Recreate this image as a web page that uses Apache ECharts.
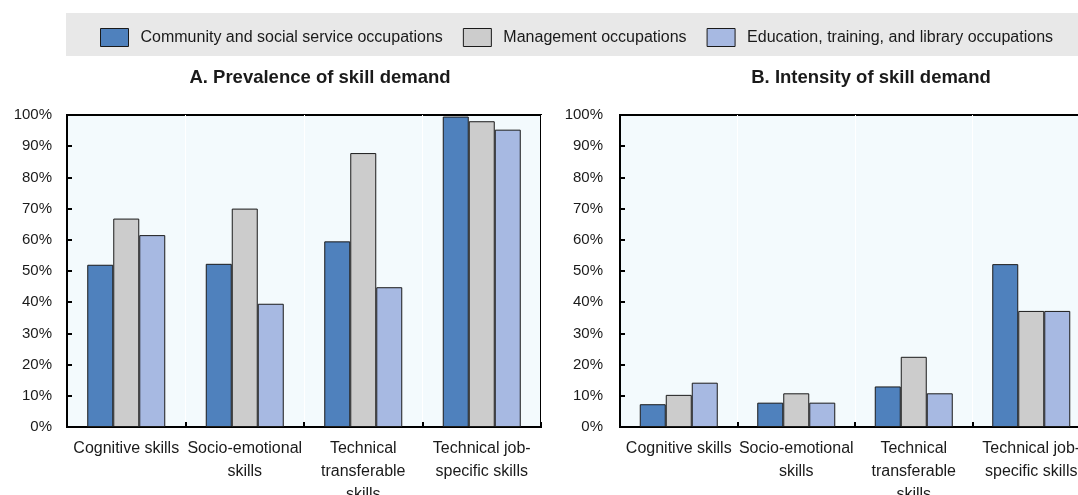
<!DOCTYPE html>
<html>
<head>
<meta charset="utf-8">
<title>Skill demand</title>
<script src="https://cdn.jsdelivr.net/npm/echarts@6/dist/echarts.min.js"></script>
<style>
  html, body { margin: 0; padding: 0; background: #fff; }
  #chart { width: 1078px; height: 495px; }
</style>
</head>
<body>
<div id="chart"></div>
<script>
// categories (line breaks as in the original labels)
const categories = [
  'Cognitive skills',
  'Socio-emotional\nskills',
  'Technical\ntransferable\nskills',
  'Technical job-\nspecific skills'
]
const seriesNames = [
  'Community and social service occupations',
  'Management occupations',
  'Education, training, and library occupations'
]
const colors = ['#4f81bd', '#cccccc', '#a7b9e2']

// A. Prevalence of skill demand (%)
const prevCommunity = [52, 52.3, 59.5, 99.5]
const prevManagement = [66.8, 70, 87.8, 98]
const prevEducation = [61.5, 39.5, 44.8, 95.3]

// B. Intensity of skill demand (%)
const intCommunity = [7.3, 7.8, 13, 52.2]
const intManagement = [10.3, 10.8, 22.5, 37.2]
const intEducation = [14.2, 7.8, 10.8, 37.2]

const panelTitles = ['A. Prevalence of skill demand', 'B. Intensity of skill demand']

const font = '"Liberation Sans", Arial, sans-serif'
const textColor = '#1a1a1a'

const chart = echarts.init(document.getElementById('chart'))

function xAxisFor(idx) {
  return {
    type: 'category',
    gridIndex: idx,
    data: categories,
    axisLine: { lineStyle: { color: '#000', width: 2 } },
    axisTick: { show: true, inside: true, length: 5, lineStyle: { color: '#000', width: 2 } },
    splitLine: { show: true, lineStyle: { color: '#ffffff', width: 1 } },
    axisLabel: {
      interval: 0,
      color: textColor,
      fontFamily: font,
      fontSize: 16,
      lineHeight: 23,
      margin: 10
    }
  }
}

function yAxisFor(idx, margin) {
  return {
    type: 'value',
    gridIndex: idx,
    min: 0,
    max: 100,
    interval: 10,
    axisLine: { show: true, lineStyle: { color: '#000', width: 2 } },
    axisTick: { show: true, inside: true, length: 5, lineStyle: { color: '#000', width: 2 } },
    splitLine: { show: false },
    axisLabel: {
      formatter: '{value}%',
      color: textColor,
      fontFamily: font,
      fontSize: 15,
      margin: margin
    }
  }
}

function barSeries(name, data, color, idx) {
  return {
    name: name,
    type: 'bar',
    xAxisIndex: idx,
    yAxisIndex: idx,
    data: data,
    barWidth: 26,
    barGap: '0%',
    itemStyle: { color: color, borderColor: '#1a1a1a', borderWidth: 1 }
  }
}

chart.setOption({
  animation: false,
  textStyle: { fontFamily: font },
  graphic: [
    {
      // grey band behind the legend
      type: 'rect',
      shape: { x: 66, y: 13, width: 1012, height: 43 },
      style: { fill: '#e8e8e8' },
      z: -1
    }
  ],
  legend: {
    data: seriesNames,
    left: 95,
    top: 23,
    itemWidth: 28,
    itemHeight: 18,
    itemGap: 20,
    icon: 'rect',
    itemStyle: { borderColor: '#1a1a1a', borderWidth: 1 },
    textStyle: { color: textColor, fontFamily: font, fontSize: 16, padding: [0, 0, 0, 7] }
  },
  title: [
    {
      text: panelTitles[0],
      left: 315,
      top: 63,
      textAlign: 'center',
      textStyle: { fontFamily: font, fontSize: 18.5, fontWeight: 'bold', color: textColor }
    },
    {
      text: panelTitles[1],
      left: 866,
      top: 63,
      textAlign: 'center',
      textStyle: { fontFamily: font, fontSize: 18.5, fontWeight: 'bold', color: textColor }
    }
  ],
  grid: [
    { left: 67, top: 115, width: 474, height: 312, outerBoundsMode: 'none', show: true, backgroundColor: '#f3fafd', borderColor: '#000', borderWidth: 2 },
    { left: 620, top: 115, width: 470, height: 312, outerBoundsMode: 'none', show: true, backgroundColor: '#f3fafd', borderColor: '#000', borderWidth: 2 }
  ],
  xAxis: [xAxisFor(0), xAxisFor(1)],
  yAxis: [yAxisFor(0, 15), yAxisFor(1, 17)],
  series: [
    barSeries(seriesNames[0], prevCommunity, colors[0], 0),
    barSeries(seriesNames[1], prevManagement, colors[1], 0),
    barSeries(seriesNames[2], prevEducation, colors[2], 0),
    barSeries(seriesNames[0], intCommunity, colors[0], 1),
    barSeries(seriesNames[1], intManagement, colors[1], 1),
    barSeries(seriesNames[2], intEducation, colors[2], 1)
  ]
})
</script>
</body>
</html>
